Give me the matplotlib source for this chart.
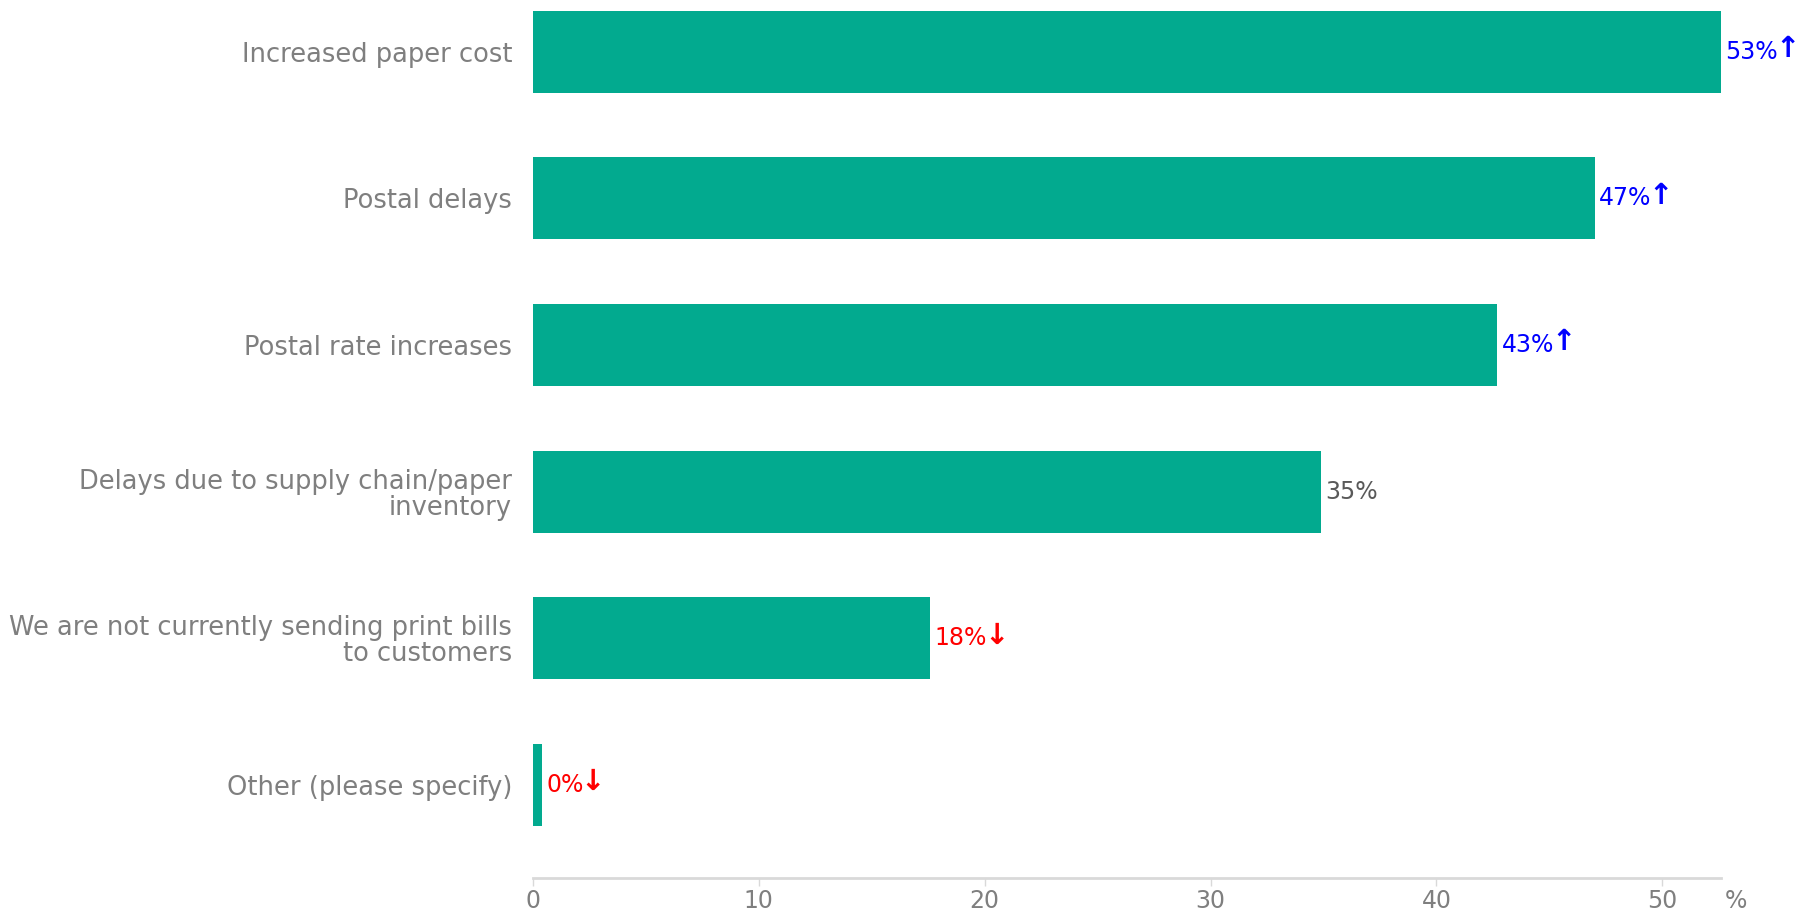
import matplotlib.pyplot as plt

# Survey answers, top to bottom
categories = [
    "Increased paper cost",
    "Postal delays",
    "Postal rate increases",
    "Delays due to supply chain/paper\ninventory",
    "We are not currently sending print bills\nto customers",
    "Other (please specify)",
]
values = [52.6, 47.0, 42.7, 34.9, 17.6, 0.4]
# trend vs. previous survey: 1 = up, -1 = down, 0 = no change
trend = [1, 1, 1, 0, -1, -1]
x_ticks = [0, 10, 20, 30, 40, 50]

bar_color = "#02AA8F"
text_gray = "#7f7f7f"
trend_colors = {1: "#0000ff", -1: "#ff0000", 0: "#595959"}
trend_arrows = {1: "\u2191", -1: "\u2193", 0: ""}

plt.rcParams["font.family"] = ["DejaVu Sans"]

fig = plt.figure(figsize=(17.97, 9.11), dpi=100)
ax = fig.add_axes([0.2966, 0.0362, 0.9577 - 0.2966, 1 - 0.0362])

positions = list(range(len(categories)))
ax.barh(positions, values, height=0.56, color=bar_color)

ax.set_ylim(len(categories) - 1 + 0.634, -0.352)
ax.set_xlim(0, 52.6)

ax.set_yticks(positions)
ax.set_yticklabels(categories, fontsize=18.5, color=text_gray, linespacing=1.0)
ax.tick_params(axis="y", length=0, pad=15)

ax.set_xticks(x_ticks)
ax.set_xticklabels([str(t) for t in x_ticks], fontsize=17, color=text_gray)
ax.tick_params(axis="x", length=6, color="#d9d9d9", width=1, pad=2)

for side in ["top", "right", "left"]:
    ax.spines[side].set_visible(False)
ax.spines["bottom"].set_color("#d9d9d9")
ax.spines["bottom"].set_linewidth(2)

# unit marker at the end of the x axis
ax.annotate("%", xy=(1, 0), xycoords="axes fraction", xytext=(3, -8),
            textcoords="offset points", ha="left", va="top",
            fontsize=17, color=text_gray)

# value labels with trend arrows
for pos, val, tr in zip(positions, values, trend):
    c = trend_colors[tr]
    t = ax.annotate(f"{round(val)}%", xy=(val, pos), xytext=(3, 0),
                    textcoords="offset points", ha="left", va="center",
                    fontsize=17, color=c)
    if trend_arrows[tr]:
        ax.annotate(trend_arrows[tr], xy=(1, 0.5), xycoords=t,
                    xytext=(-2, 2), textcoords="offset points",
                    ha="left", va="center", fontsize=21, fontweight="bold",
                    color=c)

fig.savefig("out.png", dpi=100)
